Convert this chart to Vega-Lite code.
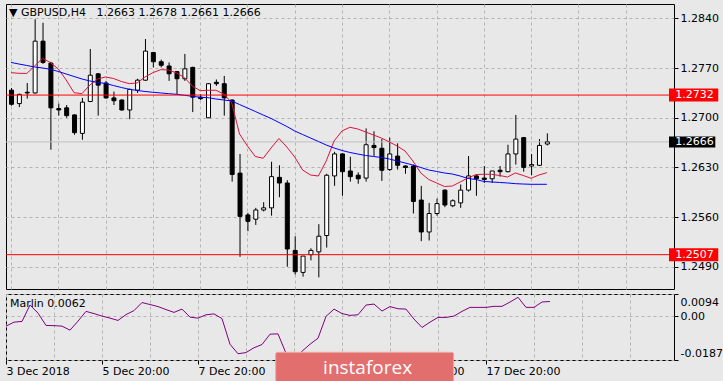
{
  "$schema": "https://vega.github.io/schema/vega-lite/v6.json",
  "padding": {"left": 3, "top": 3, "right": 2, "bottom": 0},
  "background": "#e8e8e8",
  "spacing": 3,
  "config": {
    "view": {"stroke": "#000000", "strokeWidth": 1},
    "axis": {"labelFont": "DejaVu Sans", "labelFontSize": 11, "labelColor": "#000000", "tickColor": "#000000", "domain": false},
    "title": {"font": "DejaVu Sans", "fontSize": 11, "fontWeight": "normal", "color": "#000000", "anchor": "start", "frame": "group"}
  },
  "datasets": {
    "bars": [
      {"k":0,"o":1.2739,"h":1.2742,"l":1.2717,"c":1.2719,"fast":1.27636,"slow":1.27780,"marlin":-0.00429},
      {"k":1,"o":1.2720,"h":1.2734,"l":1.2715,"c":1.2733,"fast":1.27627,"slow":1.27758,"marlin":-0.00258},
      {"k":2,"o":1.2736,"h":1.2749,"l":1.2727,"c":1.2735,"fast":1.27625,"slow":1.27737,"marlin":-0.00228},
      {"k":3,"o":1.2735,"h":1.2839,"l":1.2734,"c":1.2808,"fast":1.27730,"slow":1.27716,"marlin":0.00470},
      {"k":4,"o":1.2808,"h":1.2834,"l":1.2776,"c":1.2778,"fast":1.27839,"slow":1.27702,"marlin":0.00127},
      {"k":5,"o":1.2777,"h":1.2779,"l":1.2655,"c":1.2714,"fast":1.27777,"slow":1.27684,"marlin":-0.00399},
      {"k":6,"o":1.2713,"h":1.2720,"l":1.2703,"c":1.2711,"fast":1.27688,"slow":1.27653,"marlin":-0.00407},
      {"k":7,"o":1.2714,"h":1.2718,"l":1.2700,"c":1.2703,"fast":1.27533,"slow":1.27617,"marlin":-0.00429},
      {"k":8,"o":1.2704,"h":1.2705,"l":1.2676,"c":1.2679,"fast":1.27354,"slow":1.27582,"marlin":-0.00600},
      {"k":9,"o":1.2678,"h":1.2728,"l":1.2669,"c":1.2722,"fast":1.27340,"slow":1.27547,"marlin":-0.00215},
      {"k":10,"o":1.2723,"h":1.2797,"l":1.2722,"c":1.2760,"fast":1.27462,"slow":1.27519,"marlin":0.00200},
      {"k":11,"o":1.2762,"h":1.2763,"l":1.2703,"c":1.2746,"fast":1.27547,"slow":1.27498,"marlin":0.00106},
      {"k":12,"o":1.2749,"h":1.2752,"l":1.2727,"c":1.2728,"fast":1.27575,"slow":1.27484,"marlin":0.00000},
      {"k":13,"o":1.2728,"h":1.2737,"l":1.2718,"c":1.2724,"fast":1.27554,"slow":1.27455,"marlin":-0.00087},
      {"k":14,"o":1.2725,"h":1.2726,"l":1.2710,"c":1.2711,"fast":1.27512,"slow":1.27427,"marlin":-0.00185},
      {"k":15,"o":1.2711,"h":1.2741,"l":1.2698,"c":1.2740,"fast":1.27481,"slow":1.27402,"marlin":0.00063},
      {"k":16,"o":1.2739,"h":1.2755,"l":1.2735,"c":1.2753,"fast":1.27491,"slow":1.27385,"marlin":0.00234},
      {"k":17,"o":1.2753,"h":1.2811,"l":1.2752,"c":1.2794,"fast":1.27575,"slow":1.27371,"marlin":0.00576},
      {"k":18,"o":1.2792,"h":1.2793,"l":1.2771,"c":1.2779,"fast":1.27636,"slow":1.27359,"marlin":0.00491},
      {"k":19,"o":1.2779,"h":1.2782,"l":1.2771,"c":1.2774,"fast":1.27678,"slow":1.27350,"marlin":0.00405},
      {"k":20,"o":1.2773,"h":1.2778,"l":1.2752,"c":1.2762,"fast":1.27674,"slow":1.27340,"marlin":0.00277},
      {"k":21,"o":1.2765,"h":1.2766,"l":1.2733,"c":1.2755,"fast":1.27632,"slow":1.27331,"marlin":0.00157},
      {"k":22,"o":1.2755,"h":1.2790,"l":1.2752,"c":1.2769,"fast":1.27568,"slow":1.27317,"marlin":0.00298},
      {"k":23,"o":1.2771,"h":1.2772,"l":1.2708,"c":1.2729,"fast":1.27448,"slow":1.27303,"marlin":-0.00044},
      {"k":24,"o":1.2729,"h":1.2733,"l":1.2725,"c":1.2727,"fast":1.27382,"slow":1.27289,"marlin":-0.00087},
      {"k":25,"o":1.2700,"h":1.2749,"l":1.2700,"c":1.2748,"fast":1.27388,"slow":1.27283,"marlin":0.00055},
      {"k":26,"o":1.2750,"h":1.2754,"l":1.2745,"c":1.2748,"fast":1.27388,"slow":1.27265,"marlin":0.00093},
      {"k":27,"o":1.2748,"h":1.2759,"l":1.2703,"c":1.2728,"fast":1.27335,"slow":1.27251,"marlin":-0.00108},
      {"k":28,"o":1.2725,"h":1.2726,"l":1.2610,"c":1.2620,"fast":1.27213,"slow":1.27237,"marlin":-0.01199},
      {"k":29,"o":1.2622,"h":1.2649,"l":1.2504,"c":1.2561,"fast":1.26771,"slow":1.27187,"marlin":-0.01605},
      {"k":30,"o":1.2563,"h":1.2566,"l":1.2540,"c":1.2554,"fast":1.26602,"slow":1.27138,"marlin":-0.01554},
      {"k":31,"o":1.2557,"h":1.2573,"l":1.2549,"c":1.2570,"fast":1.26454,"slow":1.27089,"marlin":-0.01348},
      {"k":32,"o":1.2570,"h":1.2581,"l":1.2568,"c":1.2573,"fast":1.26429,"slow":1.27039,"marlin":-0.01211},
      {"k":33,"o":1.2573,"h":1.2638,"l":1.2562,"c":1.2617,"fast":1.26574,"slow":1.26990,"marlin":-0.00771},
      {"k":34,"o":1.2616,"h":1.2633,"l":1.2588,"c":1.2608,"fast":1.26708,"slow":1.26934,"marlin":-0.00758},
      {"k":35,"o":1.2608,"h":1.2612,"l":1.2490,"c":1.2515,"fast":1.26588,"slow":1.26877,"marlin":-0.01583},
      {"k":36,"o":1.2513,"h":1.2533,"l":1.2479,"c":1.2483,"fast":1.26447,"slow":1.26814,"marlin":-0.01870},
      {"k":37,"o":1.2482,"h":1.2505,"l":1.2476,"c":1.2505,"fast":1.26264,"slow":1.26764,"marlin":-0.01498},
      {"k":38,"o":1.2507,"h":1.2516,"l":1.2499,"c":1.2513,"fast":1.26193,"slow":1.26715,"marlin":-0.01199},
      {"k":39,"o":1.2511,"h":1.2550,"l":1.2475,"c":1.2533,"fast":1.26179,"slow":1.26666,"marlin":-0.00942},
      {"k":40,"o":1.2534,"h":1.2621,"l":1.2517,"c":1.2619,"fast":1.26391,"slow":1.26616,"marlin":-0.00014},
      {"k":41,"o":1.2618,"h":1.2652,"l":1.2604,"c":1.2649,"fast":1.26673,"slow":1.26574,"marlin":0.00298},
      {"k":42,"o":1.2649,"h":1.2650,"l":1.2590,"c":1.2624,"fast":1.26814,"slow":1.26539,"marlin":0.00106},
      {"k":43,"o":1.2625,"h":1.2645,"l":1.2610,"c":1.2617,"fast":1.26866,"slow":1.26511,"marlin":0.00029},
      {"k":44,"o":1.2619,"h":1.2623,"l":1.2607,"c":1.2614,"fast":1.26842,"slow":1.26489,"marlin":0.00055},
      {"k":45,"o":1.2615,"h":1.2685,"l":1.2610,"c":1.2662,"fast":1.26800,"slow":1.26468,"marlin":0.00470},
      {"k":46,"o":1.2661,"h":1.2681,"l":1.2646,"c":1.2658,"fast":1.26757,"slow":1.26454,"marlin":0.00512},
      {"k":47,"o":1.2657,"h":1.2670,"l":1.2611,"c":1.2626,"fast":1.26715,"slow":1.26440,"marlin":0.00213},
      {"k":48,"o":1.2627,"h":1.2672,"l":1.2625,"c":1.2649,"fast":1.26659,"slow":1.26419,"marlin":0.00405},
      {"k":49,"o":1.2646,"h":1.2664,"l":1.2627,"c":1.2633,"fast":1.26602,"slow":1.26391,"marlin":0.00311},
      {"k":50,"o":1.2632,"h":1.2633,"l":1.2621,"c":1.2630,"fast":1.26532,"slow":1.26363,"marlin":0.00298},
      {"k":51,"o":1.2632,"h":1.2634,"l":1.2565,"c":1.2582,"fast":1.26391,"slow":1.26334,"marlin":-0.00129},
      {"k":52,"o":1.2584,"h":1.2604,"l":1.2526,"c":1.2539,"fast":1.26222,"slow":1.26299,"marlin":-0.00484},
      {"k":53,"o":1.2539,"h":1.2580,"l":1.2527,"c":1.2565,"fast":1.26130,"slow":1.26264,"marlin":-0.00258},
      {"k":54,"o":1.2565,"h":1.2586,"l":1.2562,"c":1.2579,"fast":1.26081,"slow":1.26243,"marlin":-0.00057},
      {"k":55,"o":1.2598,"h":1.2599,"l":1.2574,"c":1.2577,"fast":1.26031,"slow":1.26222,"marlin":-0.00057},
      {"k":56,"o":1.2576,"h":1.2585,"l":1.2574,"c":1.2583,"fast":1.26038,"slow":1.26207,"marlin":0.00000},
      {"k":57,"o":1.2580,"h":1.2606,"l":1.2573,"c":1.2598,"fast":1.26095,"slow":1.26179,"marlin":0.00200},
      {"k":58,"o":1.2598,"h":1.2646,"l":1.2596,"c":1.2618,"fast":1.26151,"slow":1.26144,"marlin":0.00371},
      {"k":59,"o":1.2618,"h":1.2619,"l":1.2590,"c":1.2614,"fast":1.26200,"slow":1.26130,"marlin":0.00371},
      {"k":60,"o":1.2615,"h":1.2632,"l":1.2608,"c":1.2613,"fast":1.26203,"slow":1.26102,"marlin":0.00371},
      {"k":61,"o":1.2614,"h":1.2625,"l":1.2608,"c":1.2625,"fast":1.26203,"slow":1.26095,"marlin":0.00414},
      {"k":62,"o":1.2626,"h":1.2632,"l":1.2617,"c":1.2624,"fast":1.26186,"slow":1.26088,"marlin":0.00414},
      {"k":63,"o":1.2624,"h":1.2662,"l":1.2623,"c":1.2649,"fast":1.26165,"slow":1.26081,"marlin":0.00598},
      {"k":64,"o":1.2649,"h":1.2704,"l":1.2634,"c":1.2670,"fast":1.26222,"slow":1.26071,"marlin":0.00799},
      {"k":65,"o":1.2672,"h":1.2673,"l":1.2624,"c":1.2630,"fast":1.26186,"slow":1.26066,"marlin":0.00371},
      {"k":66,"o":1.2632,"h":1.2649,"l":1.2619,"c":1.2634,"fast":1.26147,"slow":1.26062,"marlin":0.00371},
      {"k":67,"o":1.2633,"h":1.2670,"l":1.2632,"c":1.2661,"fast":1.26193,"slow":1.26062,"marlin":0.00600},
      {"k":68,"o":1.2663,"h":1.2678,"l":1.2661,"c":1.2666,"fast":1.26226,"slow":1.26062,"marlin":0.00620}
    ],
    "levels": [
      {"level": 1.2732, "type": "line"},
      {"level": 1.2507, "type": "line"},
      {"level": 1.2666, "type": "bid"}
    ],
    "logo": [{"brand": "instaforex"}]
  },
  "vconcat": [
    {
      "width": 668,
      "height": 285,
      "title": {"text": "▼ GBPUSD,H4\u00a0\u00a0\u00a01.2663\u00a01.2678\u00a01.2661\u00a01.2666", "offset": -14, "dx": 3},
      "layer": [
        {
          "data": {"name": "bars"},
          "mark": {"type": "rule", "color": "#000000", "strokeWidth": 1, "xOffset": 0.5},
          "encoding": {
            "x": {"field": "k", "type": "quantitative", "scale": {"domain": [0, 83.5], "nice": false, "zero": false},
                  "axis": {"orient": "bottom", "values": [0,6,12,18,24,30,36,42,48,54,60,66,72,78], "tickCount": 20, "grid": true, "gridColor": "#b4b4b4", "gridDash": [3, 3], "labels": false, "ticks": false, "domain": false, "title": null}},
            "y": {"field": "l", "type": "quantitative", "scale": {"domain": [1.24586, 1.28604], "nice": false, "zero": false},
                  "axis": {"orient": "right", "values": [1.249, 1.256, 1.263, 1.27, 1.277, 1.284], "tickCount": 10, "format": ".4f", "grid": true, "gridColor": "#b4b4b4", "gridDash": [3, 3],
                           "tickSize": 4, "labelPadding": 2, "title": null, "labelOverlap": false}},
            "y2": {"field": "h"}
          }
        },
        {
          "data": {"name": "levels"},
          "transform": [{"filter": "datum.type === 'bid'"}],
          "mark": {"type": "rule", "color": "#c0c0c0", "strokeWidth": 1},
          "encoding": {"y": {"field": "level", "type": "quantitative"}}
        },
        {
          "data": {"name": "bars"},
          "mark": {"type": "bar", "size": 4, "stroke": "#000000", "strokeWidth": 1, "xOffset": 0.5},
          "encoding": {
            "x": {"field": "k", "type": "quantitative"},
            "y": {"field": "o", "type": "quantitative"},
            "y2": {"field": "c"},
            "color": {"condition": {"test": "datum.c >= datum.o", "value": "#ffffff"}, "value": "#000000"}
          }
        },
        {
          "data": {"name": "bars"},
          "mark": {"type": "line", "color": "#dc143c", "strokeWidth": 1},
          "encoding": {
            "x": {"field": "k", "type": "quantitative"},
            "y": {"field": "fast", "type": "quantitative"}
          }
        },
        {
          "data": {"name": "bars"},
          "mark": {"type": "line", "color": "#0000ff", "strokeWidth": 1},
          "encoding": {
            "x": {"field": "k", "type": "quantitative"},
            "y": {"field": "slow", "type": "quantitative"}
          }
        },
        {
          "data": {"name": "levels"},
          "transform": [{"filter": "datum.type === 'line'"}],
          "mark": {"type": "rule", "color": "#ff0000", "strokeWidth": 1},
          "encoding": {"y": {"field": "level", "type": "quantitative"}}
        },
        {
          "data": {"name": "levels"},
          "transform": [{"filter": "datum.type === 'line'"}],
          "mark": {"type": "rect", "color": "#ff0000", "yOffset": -6.5, "y2Offset": 6.5},
          "encoding": {
            "x": {"datum": 83.5, "type": "quantitative"},
            "x2": {"datum": 89.75},
            "y": {"field": "level", "type": "quantitative"},
            "y2": {"field": "level"}
          }
        },
        {
          "data": {"name": "levels"},
          "transform": [{"filter": "datum.type === 'bid'"}],
          "mark": {"type": "rect", "color": "#000000", "yOffset": -5.5, "y2Offset": 5.5},
          "encoding": {
            "x": {"datum": 83.5, "type": "quantitative"},
            "x2": {"datum": 89.375},
            "y": {"field": "level", "type": "quantitative"},
            "y2": {"field": "level"}
          }
        },
        {
          "data": {"name": "levels"},
          "mark": {"type": "text", "color": "#ffffff", "align": "left", "baseline": "middle", "font": "DejaVu Sans", "fontSize": 11},
          "encoding": {
            "x": {"datum": 84.29, "type": "quantitative"},
            "y": {"field": "level", "type": "quantitative"},
            "text": {"field": "level", "type": "quantitative", "format": ".4f"}
          }
        }
      ]
    },
    {
      "width": 668,
      "height": 66,
      "title": {"text": "Marlin 0.0062", "offset": -15, "dx": 4},
      "layer": [
        {
          "data": {"name": "bars"},
          "mark": {"type": "line", "color": "#800080", "strokeWidth": 1},
          "encoding": {
            "x": {"field": "k", "type": "quantitative", "scale": {"domain": [0, 83.5], "nice": false, "zero": false},
                  "axis": {"orient": "bottom", "values": [0,6,12,18,24,30,36,42,48,54,60,66,72,78], "tickCount": 20, "grid": true, "gridColor": "#b4b4b4", "gridDash": [3, 3], "title": null,
                           "labelExpr": "datum.value === 0 ? '3 Dec 2018' : datum.value === 12 ? '5 Dec 20:00' : datum.value === 24 ? '7 Dec 20:00' : datum.value === 36 ? '11 Dec 20:00' : datum.value === 48 ? '13 Dec 20:00' : datum.value === 60 ? '17 Dec 20:00' : ''",
                           "labelAlign": "left", "labelBaseline": "top", "labelPadding": 1, "tickSize": 4, "labelOverlap": false, "labelFlush": false, "labelBound": false,
                           "tickOpacity": {"condition": {"test": "datum.value % 12 === 0 && datum.value <= 60", "value": 1}, "value": 0}}},
            "y": {"field": "marlin", "type": "quantitative", "scale": {"domain": [-0.0187, 0.0094], "nice": false, "zero": false},
                  "axis": {"orient": "right", "values": [0.0094, 0, -0.0187], "tickCount": 10, "grid": true, "gridColor": "#b4b4b4", "gridDash": [3, 3], "title": null,
                           "tickSize": 4, "labelPadding": 2, "labelFlush": false, "labelOverlap": false, "labelBound": false,
                           "labelOffset": {"condition": [{"test": "datum.value > 0.005", "value": 8}, {"test": "datum.value < -0.01", "value": -7}], "value": 0},
                           "labelExpr": "abs(datum.value) < 0.0001 ? '0.00' : (datum.value < 0 ? '-' : '') + format(abs(datum.value), '.4f')"}}
          }
        },
        {
          "data": {"name": "logo"},
          "mark": {"type": "rect", "color": "#e36e6e", "stroke": "#f0a8a8", "strokeWidth": 1, "cornerRadius": 2},
          "encoding": {
            "x": {"datum": 33.71, "type": "quantitative"},
            "x2": {"datum": 55.96},
            "y": {"datum": -0.01542, "type": "quantitative"},
            "y2": {"datum": -0.0292}
          }
        },
        {
          "data": {"name": "logo"},
          "mark": {"type": "text", "color": "#ffffff", "font": "Open Sans", "fontSize": 19, "align": "center", "baseline": "middle"},
          "encoding": {
            "x": {"datum": 45.2, "type": "quantitative"},
            "y": {"datum": -0.0221, "type": "quantitative"},
            "text": {"field": "brand"}
          }
        }
      ]
    }
  ]
}
